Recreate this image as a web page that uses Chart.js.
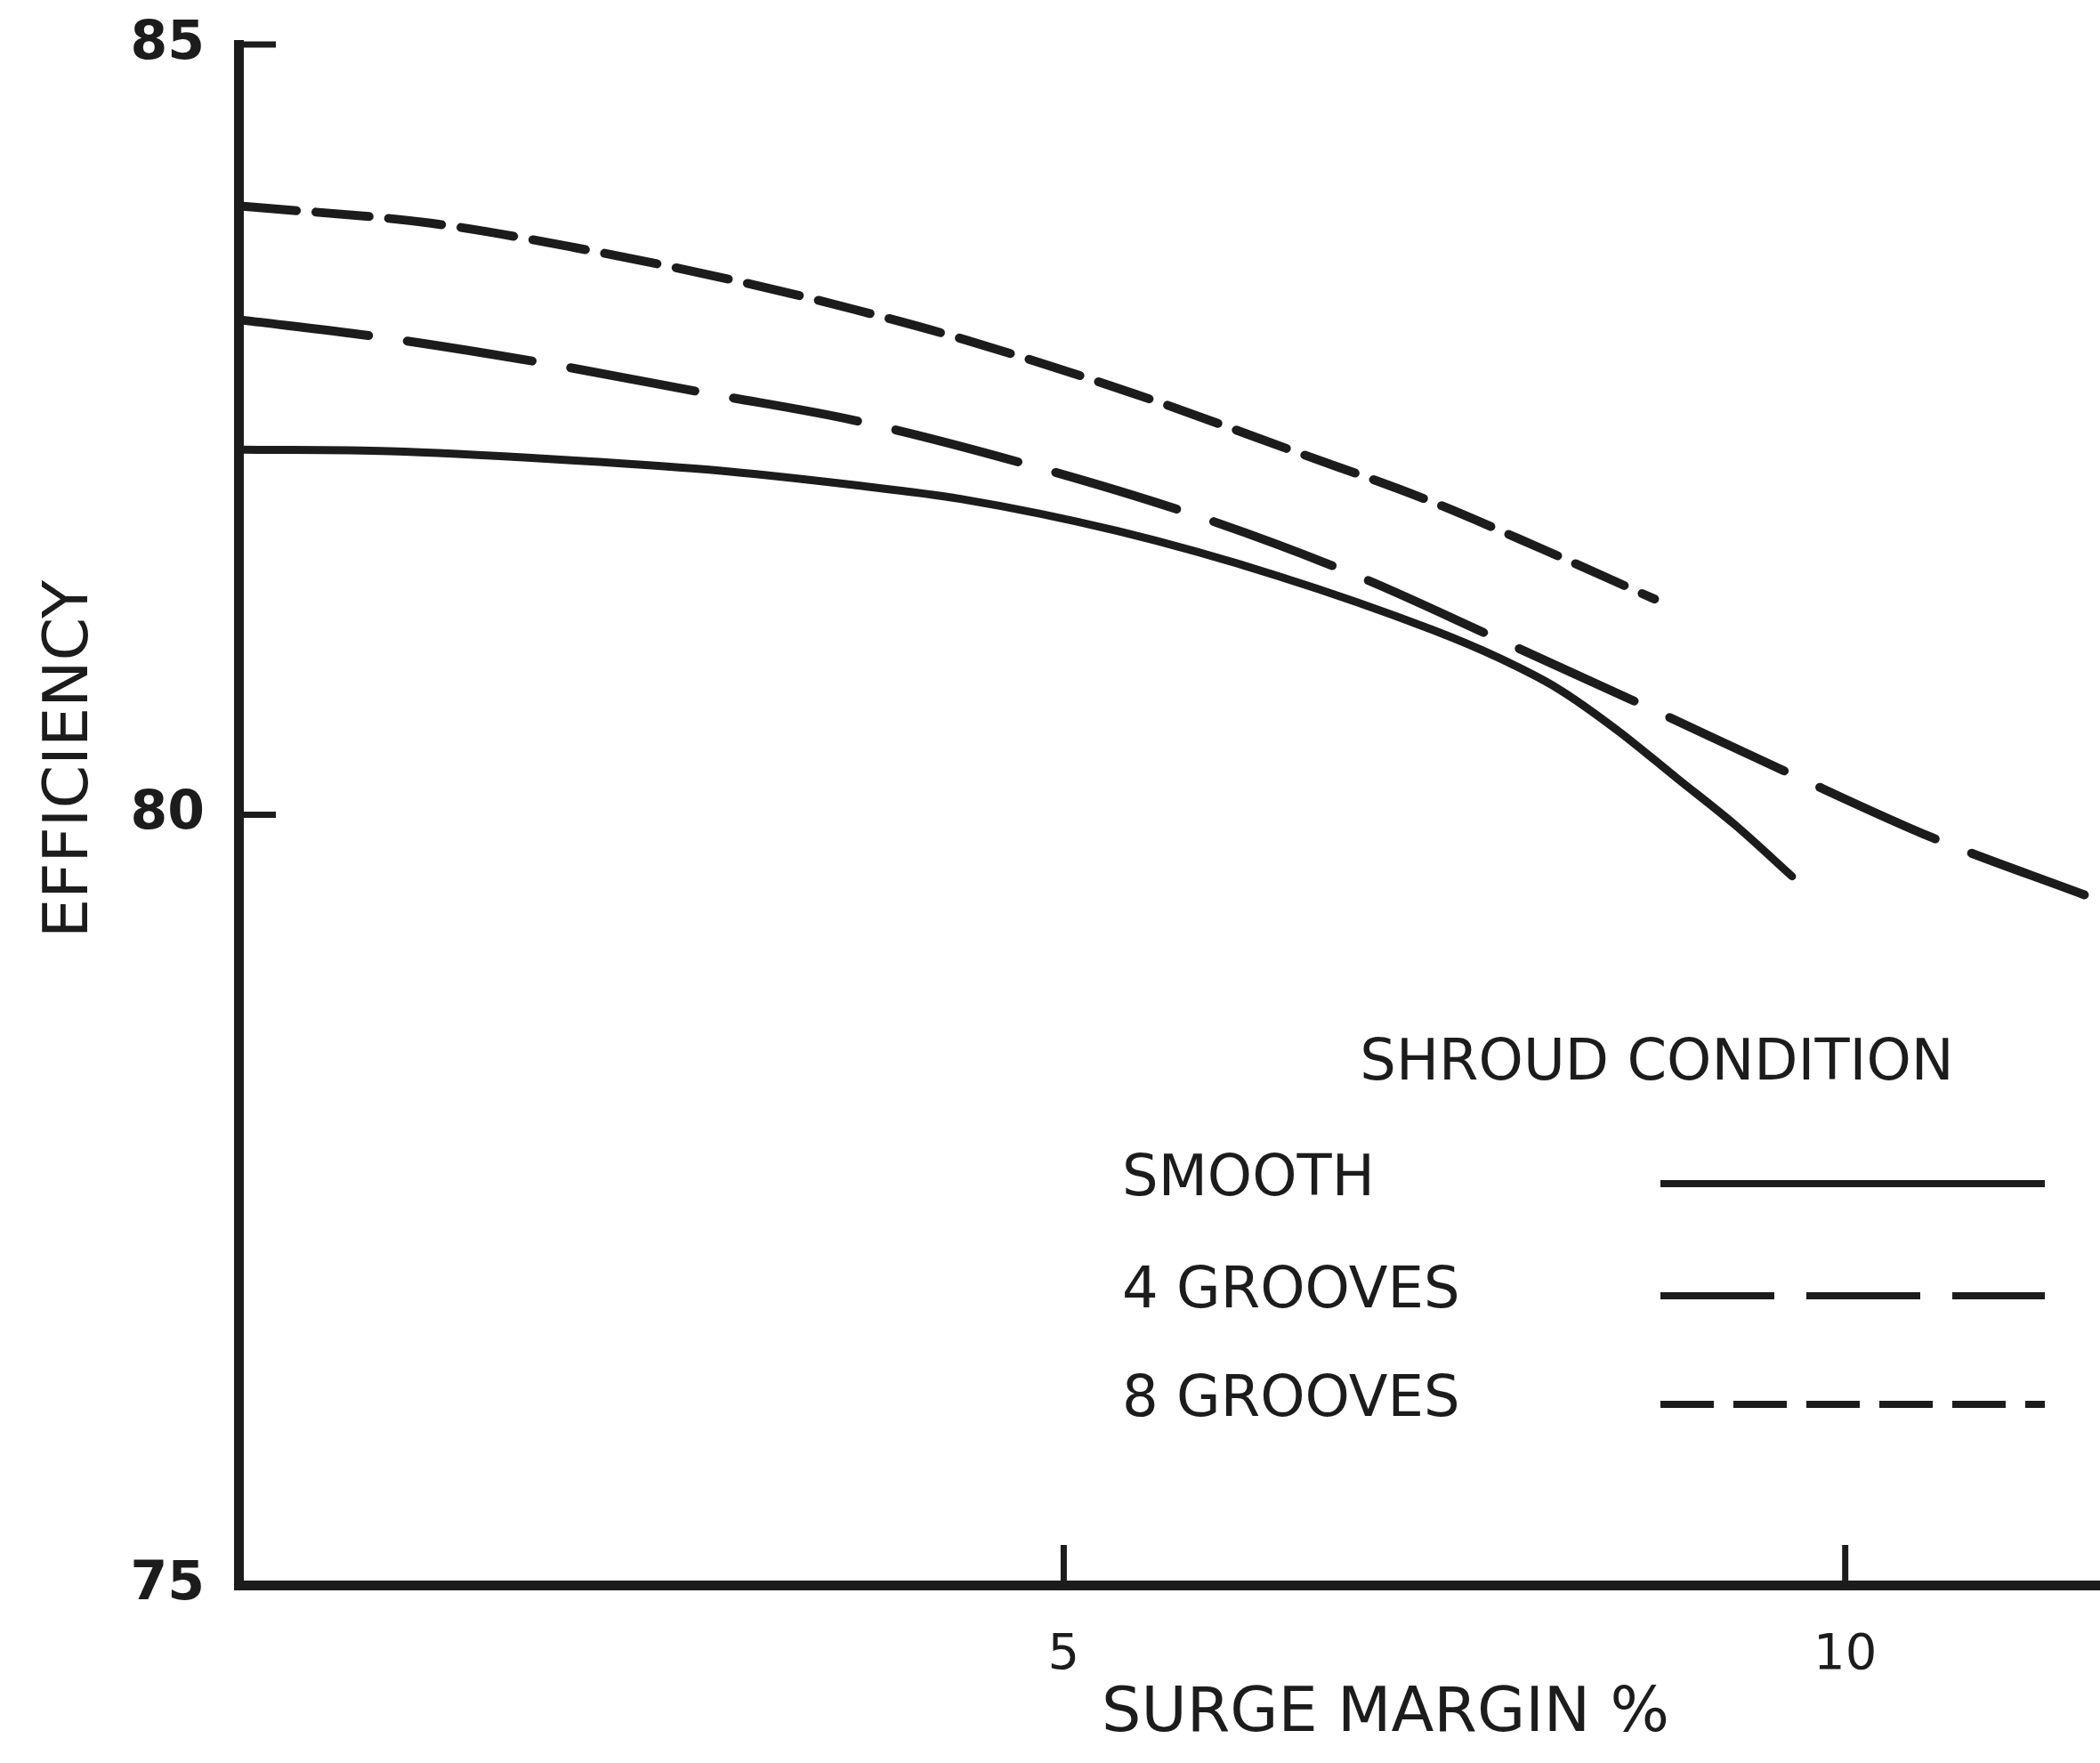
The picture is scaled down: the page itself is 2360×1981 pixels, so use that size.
<!DOCTYPE html>
<html>
<head>
<meta charset="utf-8">
<script src="https://cdn.jsdelivr.net/npm/chart.js@4.4.1/dist/chart.umd.min.js"></script>
<style>
  html, body { margin: 0; padding: 0; background: #fff; }
  canvas { display: block; }
</style>
</head>
<body>
<canvas id="chart" width="2360" height="1981"></canvas>
<script>
// values (surge margin %, efficiency)
const smoothX   = [-0.25, 0.69, 1.71, 2.73, 3.66, 4.34, 5.35, 6.37, 7.36, 7.78, 8.16, 8.54, 8.92, 9.30, 9.66];
const smoothY   = [82.37, 82.36, 82.31, 82.24, 82.14, 82.05, 81.84, 81.55, 81.20, 81.02, 80.82, 80.55, 80.24, 79.93, 79.60];
const grooves4X = [-0.25, 0.56, 1.63, 2.75, 3.66, 4.92, 5.91, 6.88, 7.78, 8.71, 9.62, 10.56, 11.53];
const grooves4Y = [83.21, 83.11, 82.94, 82.73, 82.56, 82.23, 81.92, 81.55, 81.14, 80.71, 80.28, 79.85, 79.48];
const grooves8X = [-0.25, 0.95, 1.88, 2.93, 3.66, 4.38, 5.46, 6.50, 7.31, 8.05, 8.78];
const grooves8Y = [83.95, 83.84, 83.68, 83.46, 83.28, 83.08, 82.73, 82.35, 82.05, 81.73, 81.40];

const xTicks = [5, 10];
const yTicks = [75, 80, 85];

const INK  = '#1c1c1c';
const FONT = "'DejaVu Sans', sans-serif";

const pts = (xs, ys) => xs.map((x, i) => ({ x, y: ys[i] }));

const datasets = [
  { label: 'SMOOTH',    data: pts(smoothX, smoothY),     borderWidth: 9,  borderDash: [] },
  { label: '4 GROOVES', data: pts(grooves4X, grooves4Y), borderWidth: 10, borderDash: [142, 44] },
  { label: '8 GROOVES', data: pts(grooves8X, grooves8Y), borderWidth: 10, borderDash: [60, 22] }
].map(d => ({ ...d, borderColor: INK, pointRadius: 0, fill: false, cubicInterpolationMode: 'monotone', borderCapStyle: 'round' }));

// inward tick marks, axis titles and the boxed-in legend of the original
const inkPlugin = {
  id: 'ink',
  afterDraw(chart) {
    const { ctx, chartArea: a, scales: { x, y } } = chart;
    ctx.save();
    ctx.strokeStyle = INK;
    ctx.fillStyle = INK;
    ctx.lineCap = 'butt';

    ctx.lineWidth = 7;
    yTicks.filter(v => v !== 75).forEach(v => {
      const py = y.getPixelForValue(v);
      ctx.beginPath(); ctx.moveTo(a.left, py); ctx.lineTo(a.left + 42, py); ctx.stroke();
    });
    xTicks.forEach(v => {
      const px = x.getPixelForValue(v);
      ctx.beginPath(); ctx.moveTo(px, a.bottom); ctx.lineTo(px, a.bottom - 45); ctx.stroke();
    });

    ctx.textBaseline = 'middle';
    ctx.textAlign = 'center';
    ctx.font = `70px ${FONT}`;
    ctx.fillText('SURGE MARGIN %', 1557, 1927);
    ctx.save();
    ctx.translate(80, 853);
    ctx.rotate(-Math.PI / 2);
    ctx.fillText('EFFICIENCY', 0, 0);
    ctx.restore();

    // legend
    ctx.font = `64px ${FONT}`;
    ctx.fillText('SHROUD CONDITION', 1862, 1196);
    ctx.textAlign = 'left';
    const rows = [1326, 1452, 1574];
    chart.data.datasets.forEach((ds, i) => {
      ctx.fillText(ds.label, 1261, rows[i]);
      ctx.lineWidth = 8;
      ctx.setLineDash(i === 1 ? [128, 36] : ds.borderDash);
      ctx.beginPath(); ctx.moveTo(1866, rows[i] + 4); ctx.lineTo(2298, rows[i] + 4); ctx.stroke();
    });
    ctx.setLineDash([]);
    ctx.restore();
  }
};

new Chart(document.getElementById('chart'), {
  type: 'line',
  data: { datasets },
  options: {
    responsive: false,
    devicePixelRatio: 1,
    animation: false,
    layout: { padding: { top: 50, left: 0, right: 0, bottom: 0 } },
    plugins: { legend: { display: false }, tooltip: { enabled: false } },
    scales: {
      x: {
        type: 'linear', min: -0.28, max: 11.63,
        afterFit: s => { s.height = 200; s.paddingLeft = 0; s.paddingRight = 0; },
        afterBuildTicks: s => { s.ticks = xTicks.map(v => ({ value: v })); },
        grid: { display: false },
        border: { display: true, color: INK, width: 11 },
        ticks: { color: INK, padding: 38, font: { family: FONT, size: 56 } }
      },
      y: {
        type: 'linear', min: 75, max: 85,
        afterFit: s => { s.width = 268; s.paddingTop = 0; s.paddingBottom = 0; },
        afterBuildTicks: s => { s.ticks = yTicks.map(v => ({ value: v })); },
        grid: { display: false },
        border: { display: true, color: INK, width: 11 },
        ticks: { color: INK, padding: 30, font: { family: FONT, size: 60, weight: 'bold' } }
      }
    }
  },
  plugins: [inkPlugin]
});
</script>
</body>
</html>
